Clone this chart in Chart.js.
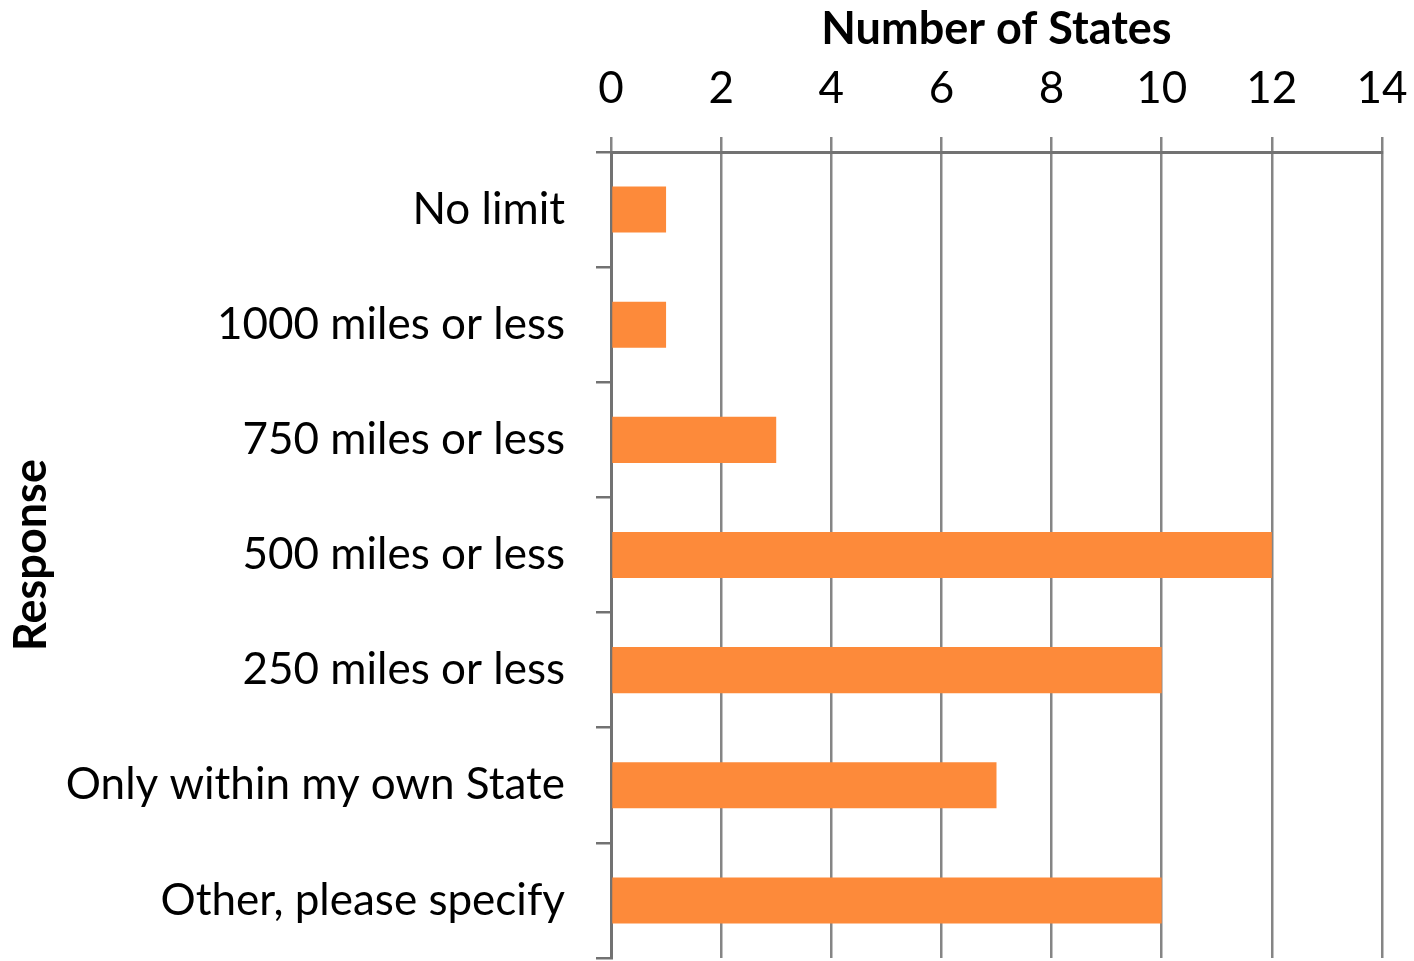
<!DOCTYPE html>
<html><head><meta charset="utf-8">
<script src="https://cdn.jsdelivr.net/npm/chart.js@4"></script>
<style>html,body{margin:0;padding:0;background:#fff;overflow:hidden}</style>
</head><body>
<canvas id="c" width="1414" height="961"></canvas>
<script>
const categories = ["No limit", "1000 miles or less", "750 miles or less", "500 miles or less", "250 miles or less", "Only within my own State", "Other, please specify"];
const numberOfStates = [1, 1, 3, 12, 10, 7, 10];
const xAxisMin = 0;
const xAxisMax = 14;
const xAxisStep = 2;
const xAxisTitle = "Number of States";
const yAxisTitle = "Response";

const FONT = "Lato";
const gridColor = "#858585";

new Chart(document.getElementById("c"), {
  type: "bar",
  data: {
    labels: categories,
    datasets: [{
      data: numberOfStates,
      backgroundColor: "#FD8A3A",
      borderWidth: 0,
      barPercentage: 0.4,
      categoryPercentage: 1.0
    }]
  },
  options: {
    indexAxis: "y",
    responsive: false,
    animation: false,
    devicePixelRatio: 1,
    layout: { padding: { left: 0, top: 0, right: 32, bottom: 3 } },
    plugins: { legend: { display: false }, tooltip: { enabled: false } },
    scales: {
      x: {
        position: "top",
        min: xAxisMin,
        max: xAxisMax,
        ticks: { stepSize: xAxisStep, color: "#000", font: { family: FONT, size: 44 }, padding: 22 },
        grid: { color: gridColor, lineWidth: 2.5, tickLength: 15 },
        border: { color: "#727272", width: 3 },
        title: { display: true, text: xAxisTitle, color: "#000", font: { family: FONT, size: 45, weight: "bold" }, padding: { top: 2, bottom: 0 } },
        afterFit: (s) => { s.height = 152; s.paddingLeft = 0; s.paddingRight = 0; }
      },
      y: {
        ticks: { color: "#000", font: { family: FONT, size: 44 }, padding: 31 },
        grid: { display: true, drawOnChartArea: false, color: "#727272", lineWidth: 2.5, tickLength: 15 },
        border: { color: "#727272", width: 3 },
        title: { display: true, text: yAxisTitle, color: "#000", font: { family: FONT, size: 45, weight: "bold" }, padding: { top: 4, bottom: 0 } },
        afterFit: (s) => { s.width = 611; s.paddingTop = 0; s.paddingBottom = 0; }
      }
    }
  }
});
</script>
</body></html>
